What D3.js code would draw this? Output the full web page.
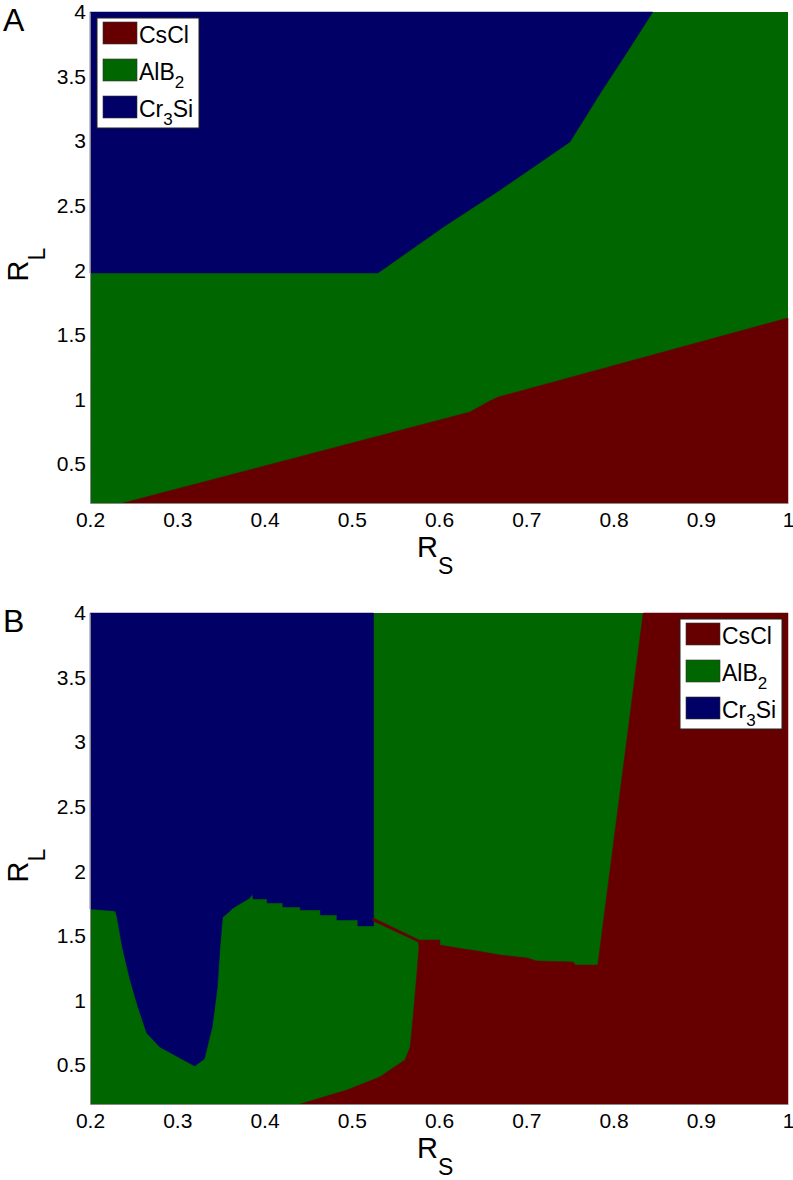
<!DOCTYPE html>
<html>
<head>
<meta charset="utf-8">
<script src="https://cdn.jsdelivr.net/npm/d3@7"></script>
<style>
  body { margin: 0; background: #fff; }
  svg text { font-family: "Liberation Sans", Arial, Helvetica, sans-serif; fill: #000; }
</style>
</head>
<body>
<div id="chart"></div>
<script>
// phases, legend order
const phaseNames = [["Cs", "Cl", ""], ["AlB", "", "2"], ["Cr", "Si", "3"]];
const phaseColors = ["#660000", "#006600", "#000066"];

const xTicks = [0.2, 0.3, 0.4, 0.5, 0.6, 0.7, 0.8, 0.9, 1];
const yTicks = [0.5, 1, 1.5, 2, 2.5, 3, 3.5, 4];

// panel A phase boundaries, points are [R_S, R_L]
const aCr3Si = [[0.2, 4], [0.845, 4], [0.815, 3.683], [0.785, 3.373], [0.75, 2.994],
  [0.67, 2.623], [0.605, 2.336], [0.53, 1.98], [0.2, 1.98]];
const aCsCl = [[0.238, 0.2], [0.6355, 0.904], [0.658, 0.989], [0.668, 1.02],
  [1.0, 1.632], [1.0, 0.2]];

// panel B phase boundaries
const bCr3Si = [[0.2, 4], [0.525, 4], [0.525, 1.578],
  [0.507, 1.578], [0.507, 1.624], [0.483, 1.624], [0.483, 1.663], [0.464, 1.663],
  [0.464, 1.702], [0.441, 1.702], [0.441, 1.725], [0.421, 1.725], [0.421, 1.756],
  [0.403, 1.756], [0.403, 1.787], [0.387, 1.787], [0.386, 1.825], [0.383, 1.794],
  [0.364, 1.717], [0.354, 1.655], [0.352, 1.647], [0.349, 1.415], [0.346, 1.106],
  [0.340, 0.796], [0.331, 0.548], [0.320, 0.494], [0.303, 0.556], [0.280, 0.641],
  [0.265, 0.75], [0.255, 0.951], [0.246, 1.16], [0.237, 1.415], [0.231, 1.647],
  [0.229, 1.694], [0.2, 1.709]];
const bCsCl = [[0.441, 0.2], [0.4945, 0.308], [0.532, 0.409], [0.561, 0.541],
  [0.567, 0.641], [0.570, 0.85], [0.575, 1.237], [0.577, 1.415], [0.576, 1.469],
  [0.601, 1.469], [0.601, 1.43], [0.621, 1.407], [0.644, 1.384], [0.670, 1.353],
  [0.701, 1.33], [0.712, 1.307], [0.754, 1.299], [0.756, 1.276], [0.782, 1.276],
  [0.834, 4], [1.0, 4], [1.0, 0.2]];
const bCsClSliver = [[0.524, 1.642], [0.577, 1.47], [0.577, 1.452], [0.524, 1.618]];

const W = 793, H = 1180;
const plotLeft = 90, plotW = 698, plotH = 491;

const svg = d3.select("#chart").append("svg")
  .attr("width", W)
  .attr("height", H);

function drawPanel(top, letter, regions, legendRight) {
  const x = d3.scaleLinear().domain([0.2, 1]).range([0, plotW]);
  const y = d3.scaleLinear().domain([0.2, 4]).range([plotH, 0]);

  const g = svg.append("g")
    .attr("transform", "translate(" + plotLeft + "," + top + ")");

  // AlB2 fills the whole plane, other phases drawn over it
  g.append("rect")
    .attr("x", x(0.2)).attr("y", y(4))
    .attr("width", x(1) - x(0.2))
    .attr("height", y(0.2) - y(4))
    .style("fill", phaseColors[1]);

  const line = d3.line().x(d => x(d[0])).y(d => y(d[1]));
  regions.forEach(r => {
    g.append("path")
      .attr("d", line(r.pts) + "Z")
      .style("fill", phaseColors[r.phase])
      .style("stroke", phaseColors[r.phase])
      .style("stroke-width", 0.5);
  });

  // axes, labels only (matlab ticks hidden by the image)
  const xAxis = g.append("g")
    .attr("transform", "translate(0," + plotH + ")")
    .call(d3.axisBottom(x).tickValues(xTicks).tickSize(0).tickPadding(9)
      .tickFormat(d3.format("")));
  const yAxis = g.append("g")
    .call(d3.axisLeft(y).tickValues(yTicks).tickSize(0).tickPadding(4)
      .tickFormat(d3.format("")));
  [xAxis, yAxis].forEach(a => {
    a.select(".domain").attr("stroke", "#888");
    a.selectAll("text").style("font-size", "21px")
      .style("font-family", '"Liberation Sans", Arial, sans-serif');
  });

  // axis titles
  const xt = g.append("text")
    .attr("x", plotW / 2 - 22)
    .attr("y", plotH + 54)
    .style("font-size", "29px");
  xt.append("tspan").text("R");
  xt.append("tspan").attr("dy", 17).style("font-size", "23px").text("S");

  const yt = g.append("text")
    .attr("transform", "translate(" + (-62) + "," + (plotH / 2 + 24) + ") rotate(-90)")
    .style("font-size", "29px");
  yt.append("tspan").text("R");
  yt.append("tspan").attr("dy", 17).style("font-size", "23px").text("L");

  // panel letter
  svg.append("text")
    .attr("x", 3)
    .attr("y", top + 19)
    .style("font-size", "32px")
    .text(letter);

  // legend
  const lw = 102, lh = 110;
  const lx = legendRight ? plotW - 6 - lw : 7;
  const ly = 6;
  const lg = g.append("g").attr("transform", "translate(" + lx + "," + ly + ")");
  lg.append("rect")
    .attr("width", lw).attr("height", lh)
    .style("fill", "#fff")
    .style("stroke", "#222")
    .style("stroke-width", 1);
  phaseNames.forEach((p, i) => {
    const row = 4 + i * 37;
    lg.append("rect")
      .attr("x", 6).attr("y", row)
      .attr("width", 34).attr("height", 22)
      .style("fill", phaseColors[i])
      .style("stroke", "#333")
      .style("stroke-width", 0.6);
    const t = lg.append("text")
      .attr("x", 42).attr("y", row + 21)
      .style("font-size", "23px");
    t.append("tspan").text(p[0]);
    if (p[2]) {
      t.append("tspan").attr("dy", 8).style("font-size", "17px").text(p[2]);
      if (p[1]) t.append("tspan").attr("dy", -8).text(p[1]);
    } else {
      t.append("tspan").text(p[1]);
    }
  });
}

drawPanel(12, "A", [
  { phase: 2, pts: aCr3Si },
  { phase: 0, pts: aCsCl }
], false);

drawPanel(613, "B", [
  { phase: 2, pts: bCr3Si },
  { phase: 0, pts: bCsCl },
  { phase: 0, pts: bCsClSliver }
], true);
</script>
</body>
</html>
